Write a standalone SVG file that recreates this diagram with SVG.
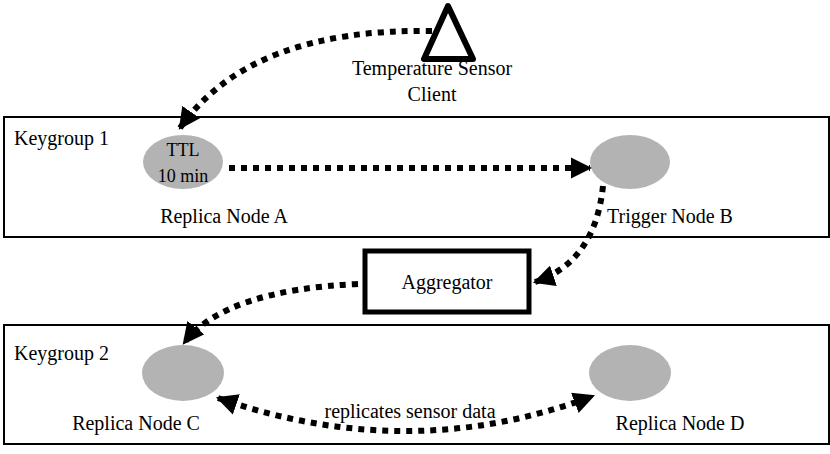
<svg xmlns="http://www.w3.org/2000/svg" width="830" height="454" viewBox="0 0 830 454">
<style>
text{font-family:"Liberation Serif",serif;font-size:20px;fill:#000}
.m{text-anchor:middle}
.n{fill:#b3b3b3}
.c{fill:none;stroke:#000;stroke-width:6;stroke-dasharray:6 6}
</style>
<defs><marker id="a" viewBox="0 0 10 10" refX="9" refY="5" markerWidth="3.6" markerHeight="3.6" orient="auto-start-reverse"><path d="M0,0L10,5L0,10z"/></marker></defs>
<rect x="4" y="117" width="825" height="120" fill="#fff" stroke="#000" stroke-width="2"/>
<rect x="4" y="325" width="825" height="119" fill="#fff" stroke="#000" stroke-width="2"/>
<text x="14" y="145">Keygroup 1</text>
<text x="14" y="360">Keygroup 2</text>
<g id="sensor"><path d="M448,6L424,59L473,59Z" fill="#fff" stroke="#000" stroke-width="6" stroke-linejoin="round"/>
<text class="m" x="432" y="75">Temperature Sensor</text><text class="m" x="432" y="101">Client</text></g>
<g id="nodeA"><ellipse class="n" cx="183" cy="162" rx="40" ry="27"/><text class="m" x="183" y="156" style="font-size:18px">TTL</text><text class="m" x="183" y="182" style="font-size:18px">10 min</text><text class="m" x="224" y="223">Replica Node A</text></g>
<g id="nodeB"><ellipse class="n" cx="630" cy="162" rx="40" ry="27"/><text class="m" x="670" y="223">Trigger Node B</text></g>
<g id="agg"><rect x="365" y="251" width="164" height="61" fill="#fff" stroke="#000" stroke-width="5"/><text class="m" x="447" y="289">Aggregator</text></g>
<g id="nodeC"><ellipse class="n" cx="183" cy="373" rx="41" ry="28"/><text class="m" x="136" y="430">Replica Node C</text></g>
<g id="nodeD"><ellipse class="n" cx="630" cy="373" rx="41" ry="28"/><text class="m" x="680" y="430">Replica Node D</text></g>
<text class="m" x="410" y="418">replicates sensor data</text>
<g id="connectors">
<path class="c" marker-end="url(#a)" d="M432,31Q250,28 180,128"/>
<path class="c" marker-end="url(#a)" d="M229,168L590,168"/>
<path class="c" marker-end="url(#a)" d="M603,186Q595,262 535,282"/>
<path class="c" marker-end="url(#a)" d="M358,284Q225,290 184,343"/>
<path class="c" marker-start="url(#a)" marker-end="url(#a)" d="M218,398Q410,465 593,396"/>
</g>
</svg>
